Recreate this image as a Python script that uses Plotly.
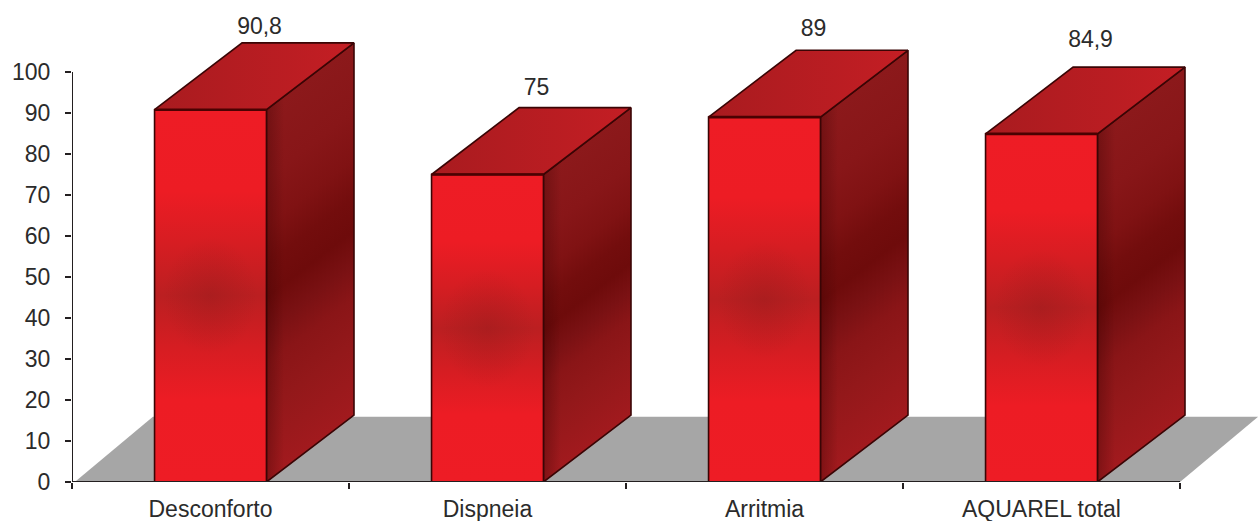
import plotly.graph_objects as go

categories = ["Desconforto", "Dispneia", "Arritmia", "AQUAREL total"]
values = [90.8, 75, 89, 84.9]
value_labels = ["90,8", "75", "89", "84,9"]
y_ticks = [0, 10, 20, 30, 40, 50, 60, 70, 80, 90, 100]
x_boundaries = [-0.5, 0.5, 1.5, 2.5, 3.5]

# Oblique projection of the columns, in axis units
BAR_WIDTH = 0.404
DEPTH_X = 0.316
DEPTH_Y = 16.3
FLOOR_X = 0.282
FLOOR_Y = 15.9
GLOW_HALF_HEIGHT = 17
SIDE_STRIPS = 22
LABEL_LIFT = [3.6, 4.6, 4.8, 6.3]
FONT = "Liberation Sans"
EDGE = "#3a0505"
INK = "#231f20"
TEXT = "#2b2b2b"

FRONT_SCALE = [[0, "#ee1c25"], [0.22, "#ed1c24"], [0.36, "#d61d22"], [0.5, "#bb1f21"],
               [0.64, "#d61d22"], [0.78, "#ed1c24"], [1, "#ee1c25"]]
FRONT_GLOW = [[0, "rgba(130,25,25,0.28)"], [0.85, "rgba(130,25,25,0.0)"], [1, "rgba(130,25,25,0.0)"]]
SIDE_SCALE = [[0, "#a21a1e"], [0.2, "#93181a"], [0.32, "#8a1517"], [0.41, "#7a1113"],
              [0.5, "#6e0b0b"], [0.59, "#730d0d"], [0.69, "#801213"], [0.82, "#881618"],
              [1, "#8c191b"]]
TOP_SCALE = [[0, "#a91b1f"], [1, "#c41e24"]]


def polygon(xs, ys, gradient=None, color=None, line=None):
    trace = dict(
        x=xs + xs[:1], y=ys + ys[:1], mode="lines", fill="toself",
        line=dict(color=line or "rgba(0,0,0,0)", width=1.6 if line else 0),
        hoverinfo="skip", showlegend=False, cliponaxis=False,
    )
    if gradient:
        trace["fillgradient"] = gradient
    else:
        trace["fillcolor"] = color
    return go.Scatter(**trace)


fig = go.Figure()

# Floor of the chart
fig.add_trace(polygon(
    [-0.49, 3.5, 3.5 + FLOOR_X, -0.49 + FLOOR_X],
    [0, 0, FLOOR_Y, FLOOR_Y],
    color="#a6a6a6",
))

for i, v in enumerate(values):
    x0, x1 = i - BAR_WIDTH / 2, i + BAR_WIDTH / 2

    # Right side: thin strips let the vertical shading follow the slant of the column.
    # Each strip reaches under the next one so no seams show between them.
    for s in range(SIDE_STRIPS):
        a = s / SIDE_STRIPS
        b = min(1, (s + 1.6) / SIDE_STRIPS)
        base_a, base_b = a * DEPTH_Y, b * DEPTH_Y
        fig.add_trace(polygon(
            [x1 + a * DEPTH_X, x1 + b * DEPTH_X, x1 + b * DEPTH_X, x1 + a * DEPTH_X],
            [base_a, base_b, base_b + v, base_a + v],
            gradient=dict(type="vertical", colorscale=SIDE_SCALE,
                          start=base_a, stop=base_a + v),
        ))
    # a dark shadow next to the front face
    fig.add_trace(polygon(
        [x1, x1 + DEPTH_X, x1 + DEPTH_X, x1],
        [0, DEPTH_Y, v + DEPTH_Y, v],
        gradient=dict(type="horizontal", start=x1, stop=x1 + DEPTH_X,
                      colorscale=[[0, "rgba(50,0,0,0.30)"], [0.2, "rgba(50,0,0,0)"],
                                  [1, "rgba(50,0,0,0)"]]),
        line=EDGE,
    ))

    # Top
    fig.add_trace(polygon(
        [x0, x1, x1 + DEPTH_X, x0 + DEPTH_X],
        [v, v, v + DEPTH_Y, v + DEPTH_Y],
        gradient=dict(type="horizontal", colorscale=TOP_SCALE,
                      start=x0, stop=x1 + DEPTH_X),
        line=EDGE,
    ))

    # Front, with a soft round shadow in its middle
    fig.add_trace(polygon([x0, x1, x1, x0], [0, 0, v, v], gradient=dict(
        type="vertical", colorscale=FRONT_SCALE, start=0, stop=v), line=EDGE))
    fig.add_trace(polygon(
        [x0, x1, x1, x0],
        [v / 2 - GLOW_HALF_HEIGHT, v / 2 - GLOW_HALF_HEIGHT,
         v / 2 + GLOW_HALF_HEIGHT, v / 2 + GLOW_HALF_HEIGHT],
        gradient=dict(type="radial", colorscale=FRONT_GLOW),
    ))
    # heavier edge where the front meets the top
    fig.add_trace(go.Scatter(
        x=[x0, x1], y=[v, v], mode="lines", line=dict(color="#4a0202", width=2.6),
        hoverinfo="skip", showlegend=False, cliponaxis=False,
    ))

# Value labels sit above the back edge of each column
fig.add_trace(go.Scatter(
    x=[i + 0.177 for i in range(len(values))],
    y=[v + DEPTH_Y + lift for v, lift in zip(values, LABEL_LIFT)],
    text=value_labels, mode="text", textposition="middle center",
    textfont=dict(family=FONT, size=23, color=TEXT),
    hoverinfo="skip", showlegend=False, cliponaxis=False,
))

# Axis lines stop at the last tick although the plot area runs further
for x_a, y_a, x_b, y_b in [(-0.5, 0, -0.5, 100), (-0.5, 0, 3.5, 0)]:
    fig.add_shape(type="line", x0=x_a, y0=y_a, x1=x_b, y1=y_b, xref="x", yref="y",
                  line=dict(color=INK, width=2), layer="above")

fig.update_layout(
    width=1259, height=521, autosize=False,
    margin=dict(l=72, r=0, t=0, b=39),
    paper_bgcolor="white", plot_bgcolor="white",
    font=dict(family=FONT, size=23, color=TEXT),
    xaxis=dict(
        range=[-0.5, -0.5 + 1187 / 277], tickvals=list(range(len(categories))), ticktext=categories,
        ticks="", showgrid=False, zeroline=False, showline=False,
        automargin=False, ticklabelstandoff=11,
        minor=dict(tickvals=x_boundaries, ticks="outside", ticklen=6,
                   tickwidth=1.5, tickcolor=INK, showgrid=False),
    ),
    yaxis=dict(
        range=[0, 482 / 4.1], tickvals=y_ticks, ticks="outside", ticklen=6, tickwidth=1.5,
        tickcolor=INK, showgrid=False, zeroline=False, showline=False, automargin=False,
        ticklabelstandoff=10,
    ),
)

fig.write_html("out.html")
